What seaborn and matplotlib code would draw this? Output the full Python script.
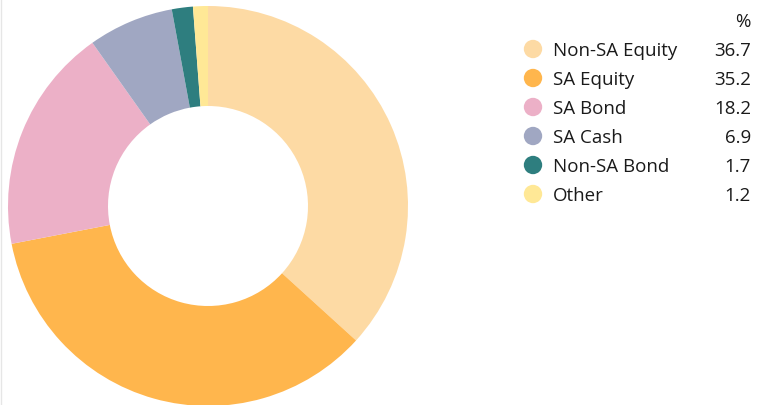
import matplotlib.pyplot as plt
import seaborn as sns

# asset allocation (%)
labels = ["Non-SA Equity", "SA Equity", "SA Bond", "SA Cash", "Non-SA Bond", "Other"]
values = [36.7, 35.2, 18.2, 6.9, 1.7, 1.2]
colors = ["#FDDAA4", "#FFB64D", "#ECB0C7", "#A0A7C2", "#2E7E7F", "#FFE896"]

sns.set_theme(style="white")
plt.rcParams["font.family"] = ["Open Sans", "DejaVu Sans"]

W, H = 763, 406
fig = plt.figure(figsize=(W / 100, H / 100), dpi=100)

# donut, centre at (208, 207) px, outer radius 200 px
cx, cy, r = 208, 207, 200
ax = fig.add_axes([(cx - r) / W, (H - cy - r) / H, 2 * r / W, 2 * r / H])
palette = sns.color_palette(colors)
ax.pie(values, colors=palette, startangle=90, counterclock=False,
       radius=1, wedgeprops=dict(width=0.5, linewidth=0))
ax.set_xlim(-1, 1)
ax.set_ylim(-1, 1)
ax.set_aspect("auto")
ax.axis("off")

# legend table on the right
lg = fig.add_axes([0, 0, 1, 1])
lg.set_xlim(0, W)
lg.set_ylim(H, 0)
lg.axis("off")
row0, step = 50, 29
rows = [row0 + i * step for i in range(len(labels))]
lg.scatter([533] * len(labels), rows, s=175, c=palette, linewidths=0)
fs = 13.5
for y, lab, v in zip(rows, labels, values):
    lg.text(553, y + 1, lab, fontsize=fs, va="center", ha="left", color="#1a1a1a")
    lg.text(751, y + 1, f"{v:.1f}", fontsize=fs, va="center", ha="right", color="#1a1a1a")
lg.text(751, 22, "%", fontsize=fs, va="center", ha="right", color="#1a1a1a")
lg.axvline(1, color="#e6e6e6", linewidth=1)

fig.savefig("out.png", dpi=100)
